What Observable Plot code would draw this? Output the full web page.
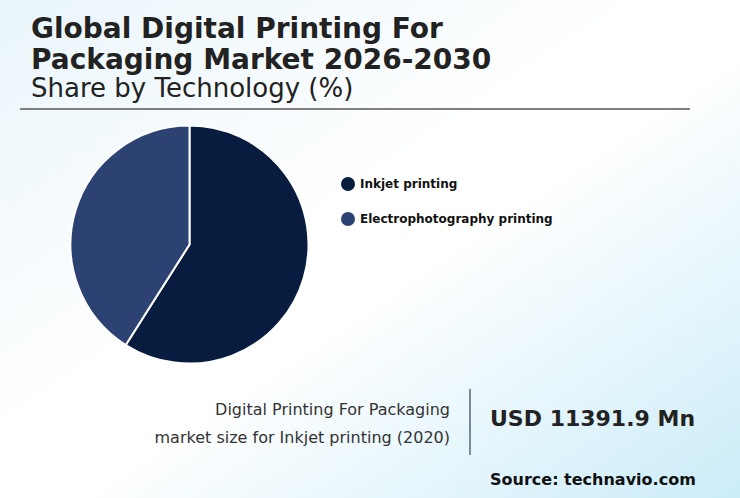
<!DOCTYPE html>
<html>
<head>
<meta charset="utf-8">
<script src="https://cdn.jsdelivr.net/npm/d3@7"></script>
<script src="https://cdn.jsdelivr.net/npm/@observablehq/plot@0.6"></script>
<style>
  html, body { margin: 0; padding: 0; }
  body { width: 740px; height: 498px; overflow: hidden; font-family: "DejaVu Sans", sans-serif; }
  #wrap { position: relative; width: 740px; height: 498px;
    background: linear-gradient(to bottom right, #e9f5fa 0%, #ffffff 45%, #ffffff 55%, #cbecf8 100%); }
  #chart { position: absolute; left: 0; top: 0; }
  .title { position: absolute; left: 31px; top: 13px; font-weight: bold; font-size: 28px; line-height: 31px; color: #222; }
  .subtitle { position: absolute; left: 31px; top: 73px; font-size: 26px; line-height: 30px; color: #222; }
  .rule { position: absolute; left: 20px; top: 108px; width: 670px; height: 2px; background: #7f7f7f; }
  .legend { position: absolute; left: 341px; top: 175px; }
  .legend .item { display: flex; align-items: center; height: 18px; margin-bottom: 17px; font-weight: bold; font-size: 12px; color: #111; }
  .legend .sw { width: 14px; height: 14px; border-radius: 50%; margin-right: 5px; }
  .desc { position: absolute; right: 290px; top: 396px; text-align: right; font-size: 16px; line-height: 28px; color: #333; }
  .vline { position: absolute; left: 469px; top: 389px; width: 2px; height: 66px; background: #7d8a9b; }
  .big { position: absolute; left: 490px; top: 406px; font-weight: bold; font-size: 22px; color: #222; }
  .source { position: absolute; left: 490px; top: 470px; font-weight: bold; font-size: 16px; color: #111; }
</style>
</head>
<body>
<div id="wrap">
  <div id="chart"></div>
  <div class="title">Global Digital Printing For<br>Packaging Market 2026-2030</div>
  <div class="subtitle">Share by Technology (%)</div>
  <div class="rule"></div>
  <div class="legend" id="legend"></div>
  <div class="desc">Digital Printing For Packaging<br>market size for Inkjet printing (2020)</div>
  <div class="vline"></div>
  <div class="big">USD 11391.9 Mn</div>
  <div class="source">Source: technavio.com</div>
</div>
<script>
const categories = ["Inkjet printing", "Electrophotography printing"];
const shares = [59, 41];
const colors = ["#081c40", "#2c4272"];

const data = categories.map((c, i) => ({category: c, share: shares[i]}));

function pieMark(index, scales, values, dimensions, context) {
  const cx = scales.x(0), cy = scales.y(0);
  const r = Math.abs(scales.x(1) - scales.x(0));
  const arcs = d3.pie().sort(null).value(d => d.share)(data);
  const arc = d3.arc().innerRadius(0).outerRadius(r);
  const g = d3.create("svg:g").attr("transform", `translate(${cx},${cy})`);
  g.selectAll("path").data(arcs).join("path")
    .attr("d", arc)
    .attr("fill", d => scales.color(d.data.category))
    .attr("stroke", "#ffffff")
    .attr("stroke-width", 2)
    .attr("stroke-linejoin", "round");
  return g.node();
}

const plot = Plot.plot({
  width: 740,
  height: 498,
  margin: 0,
  style: {background: "transparent", overflow: "visible"},
  x: {domain: [-1, 1], range: [70.5, 308.5], axis: null},
  y: {domain: [-1, 1], range: [363.5, 125.5], axis: null},
  color: {domain: categories, range: colors},
  marks: [pieMark]
});
document.getElementById("chart").appendChild(plot);

const legend = document.getElementById("legend");
categories.forEach((c, i) => {
  const item = document.createElement("div");
  item.className = "item";
  const sw = document.createElement("span");
  sw.className = "sw";
  sw.style.background = colors[i];
  const t = document.createElement("span");
  t.textContent = c;
  item.appendChild(sw); item.appendChild(t);
  legend.appendChild(item);
});
</script>
</body>
</html>
